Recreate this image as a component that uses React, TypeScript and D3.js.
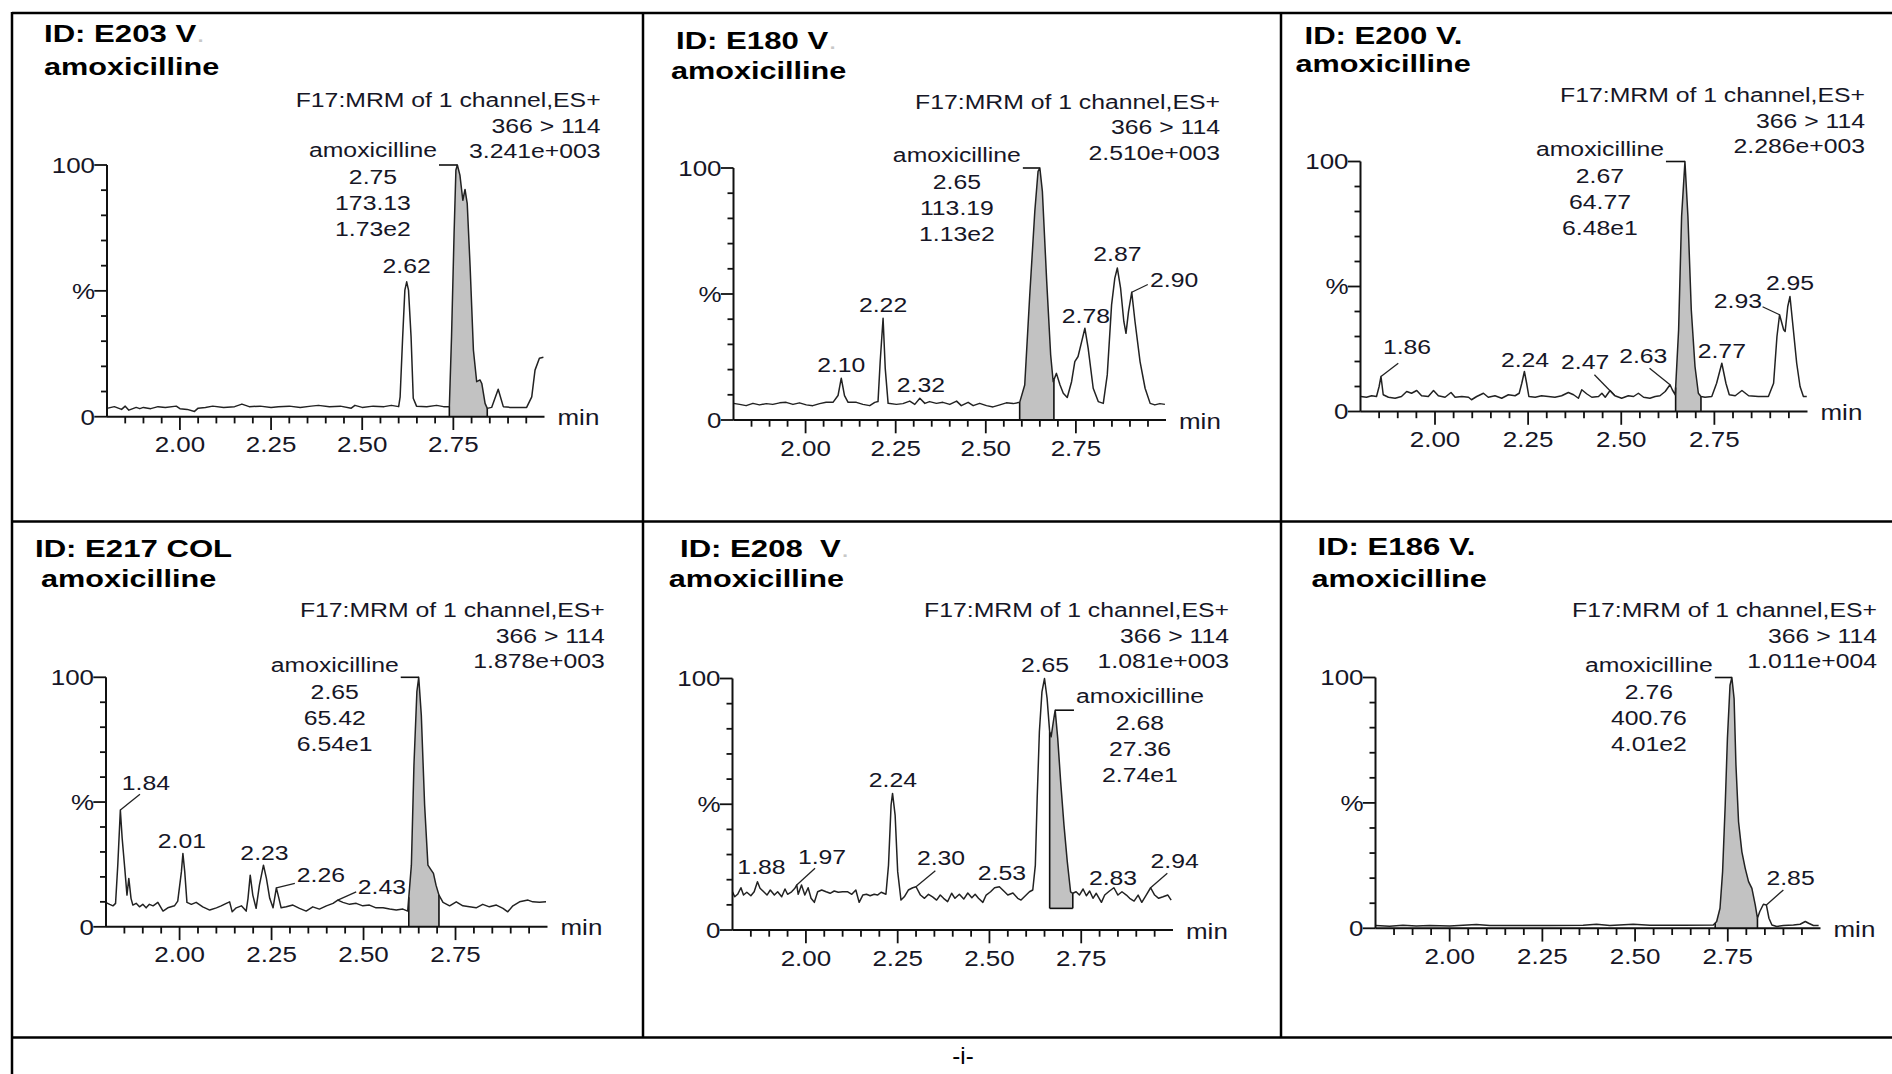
import React from "react";
import * as d3 from "d3";

type Pt = [number, number];

// ---- data ----
const sampleIds = ["ID: E203 V", "ID: E180 V", "ID: E200 V.", "ID: E217 COL", "ID: E208  V", "ID: E186 V."];
const faintDot = [true, true, false, false, true, false];
const compound = "amoxicilline";
const channel = "F17:MRM of 1 channel,ES+";
const transition = "366 > 114";
const maxIntensity = ["3.241e+003", "2.510e+003", "2.286e+003", "1.878e+003", "1.081e+003", "1.011e+004"];
const peakRt = ["2.75", "2.65", "2.67", "2.65", "2.68", "2.76"];
const peakArea = ["173.13", "113.19", "64.77", "65.42", "27.36", "400.76"];
const peakHeight = ["1.73e2", "1.13e2", "6.48e1", "6.54e1", "2.74e1", "4.01e2"];
// apex of the integrated peak [min, %]
const apex: Pt[] = [[2.761, 100], [2.65, 100], [2.671, 100], [2.65, 100], [2.679, 87.4], [2.761, 100]];
// integration window [start, end, baseline %]
const integration = [[2.739, 2.843, 0], [2.594, 2.689, 0], [2.646, 2.714, 0], [2.623, 2.705, 0], [2.664, 2.727, 8.6], [2.716, 2.83, 0]];
const timeDomain = [1.8, 3.0];
const xTicksMajor = [2.0, 2.25, 2.5, 2.75];
const yTicksMajor = [0, 50, 100];
const yTickLabels = ["0", "%", "100"];

const traceE203: Pt[] = [[1.80,3.3],[1.82,4.0],[1.84,2.9],[1.85,4.2],[1.86,2.6],[1.88,3.7],[1.89,3.2],[1.90,3.7],[1.92,3.2],[1.94,4.0],[1.96,3.7],[1.99,4.2],[2.00,3.2],[2.02,2.9],[2.04,2.1],[2.05,3.4],[2.07,3.7],[2.09,4.2],[2.12,3.7],[2.15,4.0],[2.17,5.0],[2.19,4.0],[2.22,4.2],[2.25,3.7],[2.27,4.0],[2.30,4.2],[2.33,3.7],[2.36,4.2],[2.38,4.5],[2.41,4.0],[2.44,4.2],[2.47,3.4],[2.48,4.5],[2.50,3.7],[2.53,4.2],[2.56,4.0],[2.58,4.5],[2.60,4.0],[2.604,7.9],[2.611,31.8],[2.617,50.3],[2.622,53.6],[2.627,50.3],[2.634,31.8],[2.640,7.3],[2.649,4.2],[2.677,4.0],[2.704,4.5],[2.723,4.0],[2.739,4.0],[2.745,31.8],[2.752,72.8],[2.757,98],[2.761,100],[2.768,96],[2.776,86],[2.782,90.3],[2.788,84.8],[2.796,59.6],[2.805,26.5],[2.814,13.9],[2.823,14.6],[2.828,13.2],[2.837,5.3],[2.843,3.3],[2.855,3.7],[2.873,10.9],[2.887,4.0],[2.906,3.7],[2.951,3.7],[2.965,7.9],[2.974,18.5],[2.986,23.2],[2.997,23.6]];

const traceE180: Pt[] = [[1.800,6.6],[1.817,6.2],[1.835,5.7],[1.854,6.6],[1.872,6.0],[1.891,6.5],[1.909,6.2],[1.928,6.8],[1.946,7.0],[1.965,6.2],[1.983,6.8],[2.002,6.0],[2.020,5.7],[2.039,6.5],[2.057,7.0],[2.076,7.0],[2.090,9.7],[2.099,16.6],[2.108,9.7],[2.118,7.0],[2.141,7.0],[2.159,6.2],[2.178,5.7],[2.192,7.0],[2.201,7.3],[2.207,23.2],[2.215,40.4],[2.221,20.5],[2.229,6.6],[2.252,6.2],[2.270,6.5],[2.289,7.5],[2.303,6.2],[2.317,8.6],[2.331,6.6],[2.344,7.3],[2.363,6.6],[2.381,7.0],[2.400,6.2],[2.419,7.5],[2.432,5.7],[2.451,7.0],[2.465,5.7],[2.483,6.6],[2.502,5.7],[2.520,5.2],[2.539,6.0],[2.557,6.8],[2.576,6.5],[2.594,7.0],[2.608,13.9],[2.622,49.7],[2.636,82.8],[2.645,98.7],[2.650,100],[2.657,90.7],[2.669,55.0],[2.680,25.8],[2.687,15.2],[2.696,18.5],[2.706,13.9],[2.715,10.6],[2.726,8.9],[2.738,15.2],[2.747,23.2],[2.756,25.2],[2.766,31.1],[2.775,36.4],[2.784,28.5],[2.798,12.6],[2.812,7.3],[2.826,6.6],[2.837,17.9],[2.849,45.7],[2.858,56.3],[2.865,60.3],[2.874,52.3],[2.883,39.1],[2.889,34.4],[2.896,43.0],[2.905,50.7],[2.914,39.1],[2.928,23.2],[2.942,12.6],[2.956,6.6],[2.969,6.0],[2.983,6.5],[2.997,6.2]];

const traceE200: Pt[] = [[1.801,6.0],[1.816,5.7],[1.830,6.3],[1.843,6.0],[1.850,10.0],[1.855,14.0],[1.861,6.7],[1.875,5.7],[1.893,5.3],[1.910,6.0],[1.924,8.0],[1.937,7.3],[1.951,8.4],[1.964,6.3],[1.982,6.0],[1.996,8.4],[2.009,6.3],[2.027,5.7],[2.043,7.6],[2.054,5.7],[2.072,6.0],[2.090,5.7],[2.098,4.7],[2.112,6.0],[2.130,7.3],[2.143,5.7],[2.161,6.3],[2.179,5.3],[2.197,6.7],[2.215,6.3],[2.226,7.3],[2.233,11.3],[2.240,16.0],[2.246,11.3],[2.252,6.0],[2.269,5.7],[2.286,6.3],[2.304,6.0],[2.322,5.7],[2.340,6.3],[2.358,7.6],[2.372,6.7],[2.385,5.3],[2.394,8.7],[2.407,7.1],[2.421,5.7],[2.439,6.0],[2.448,7.3],[2.457,5.7],[2.470,8.4],[2.483,6.3],[2.501,5.3],[2.519,6.3],[2.533,6.0],[2.546,7.3],[2.560,5.7],[2.577,5.3],[2.591,6.0],[2.604,6.3],[2.618,8.0],[2.631,10.7],[2.637,8.7],[2.645,6.7],[2.654,32.7],[2.662,78],[2.671,100],[2.679,78],[2.688,40.7],[2.698,18.0],[2.707,7.3],[2.714,6.0],[2.725,5.7],[2.743,6.0],[2.756,11.3],[2.770,19.3],[2.781,11.3],[2.790,6.7],[2.806,6.3],[2.824,8.4],[2.842,6.3],[2.868,6.0],[2.895,6.0],[2.909,11.3],[2.918,30],[2.925,38.7],[2.936,32.7],[2.940,32],[2.947,42],[2.953,46],[2.962,32.7],[2.971,19.3],[2.980,10.0],[2.989,6.0],[2.998,6.0]];

const traceE217: Pt[] = [[1.799,9.8],[1.810,9.0],[1.819,8.4],[1.826,9.4],[1.832,24.7],[1.839,46.8],[1.844,35.4],[1.851,23.4],[1.857,12.7],[1.862,19.4],[1.868,11.4],[1.873,8.7],[1.882,9.4],[1.891,8.0],[1.900,9.0],[1.909,7.6],[1.918,9.0],[1.928,8.4],[1.941,9.8],[1.955,6.3],[1.968,7.6],[1.986,8.4],[1.995,10.3],[2.005,22.1],[2.009,29.4],[2.014,22.1],[2.020,9.8],[2.032,9.0],[2.045,9.8],[2.063,8.0],[2.082,6.7],[2.100,7.6],[2.113,8.4],[2.127,9.4],[2.136,10.0],[2.143,6.0],[2.154,7.6],[2.168,8.4],[2.181,6.3],[2.186,11.4],[2.192,20.7],[2.199,12.7],[2.208,7.4],[2.217,16.7],[2.228,24.7],[2.236,19.4],[2.245,11.4],[2.254,7.6],[2.263,15.6],[2.270,11.4],[2.276,7.6],[2.290,8.0],[2.308,8.7],[2.326,7.4],[2.344,6.3],[2.362,8.0],[2.380,7.1],[2.399,8.4],[2.417,9.4],[2.430,10.7],[2.444,9.8],[2.462,9.0],[2.480,9.4],[2.498,8.4],[2.516,8.7],[2.534,7.6],[2.553,7.6],[2.571,7.1],[2.589,6.7],[2.607,7.1],[2.620,6.3],[2.630,24.7],[2.637,64.8],[2.645,94.3],[2.650,100],[2.657,84.9],[2.666,48.8],[2.675,24.7],[2.684,22.7],[2.690,21.4],[2.697,16.7],[2.705,12.7],[2.716,9.8],[2.734,8.4],[2.752,10.0],[2.770,8.4],[2.788,8.0],[2.806,7.6],[2.824,9.0],[2.842,8.0],[2.861,8.7],[2.879,7.4],[2.892,6.0],[2.906,8.4],[2.924,10.0],[2.947,10.7],[2.960,10.0],[2.978,9.8],[2.996,10.0]];

const traceE208: Pt[] = [[1.800,15.2],[1.806,13.2],[1.814,14.2],[1.823,16.8],[1.830,13.9],[1.839,15.0],[1.850,13.6],[1.859,15.2],[1.868,19.2],[1.875,16.6],[1.885,15.2],[1.894,13.9],[1.903,15.9],[1.914,13.9],[1.923,15.2],[1.934,13.2],[1.943,16.3],[1.950,14.2],[1.961,15.2],[1.970,16.6],[1.975,17.9],[1.979,14.2],[1.988,17.9],[1.997,13.9],[2.006,16.8],[2.014,12.6],[2.023,11.0],[2.032,15.2],[2.043,15.9],[2.055,15.2],[2.066,14.6],[2.077,15.5],[2.088,15.0],[2.100,15.2],[2.114,15.2],[2.125,14.2],[2.136,15.9],[2.145,11.0],[2.155,13.9],[2.165,14.2],[2.175,13.6],[2.186,14.2],[2.195,13.9],[2.205,15.0],[2.218,14.2],[2.225,25.8],[2.232,49.7],[2.236,54.3],[2.243,45.7],[2.250,23.2],[2.259,11.9],[2.268,13.2],[2.279,15.9],[2.291,16.8],[2.300,17.2],[2.312,13.9],[2.323,12.6],[2.334,14.2],[2.345,13.2],[2.356,11.9],[2.366,13.9],[2.375,12.6],[2.386,11.3],[2.397,14.6],[2.406,12.6],[2.418,14.2],[2.430,12.3],[2.441,14.7],[2.452,12.8],[2.461,14.2],[2.470,12.6],[2.482,11.0],[2.491,13.9],[2.503,15.2],[2.514,16.8],[2.527,17.2],[2.539,15.5],[2.550,13.9],[2.564,14.7],[2.577,12.6],[2.586,11.9],[2.600,13.9],[2.609,15.2],[2.618,15.9],[2.625,25.8],[2.630,52.3],[2.636,78.8],[2.643,94.7],[2.650,100],[2.657,92.1],[2.664,78.8],[2.668,76.8],[2.674,82.8],[2.679,87.4],[2.686,76.2],[2.694,58.9],[2.703,41.7],[2.712,27.2],[2.721,15.2],[2.727,14.6],[2.736,15.2],[2.745,13.9],[2.755,16.3],[2.764,13.6],[2.773,15.5],[2.782,12.6],[2.791,14.6],[2.805,11.0],[2.814,13.9],[2.827,15.5],[2.839,16.8],[2.850,13.9],[2.861,15.2],[2.873,13.9],[2.882,12.6],[2.894,11.5],[2.905,13.9],[2.915,11.0],[2.927,13.9],[2.939,16.8],[2.950,13.9],[2.961,12.6],[2.973,13.2],[2.986,13.9],[2.995,11.9]];

const traceE186: Pt[] = [[1.800,1.1],[1.838,0.8],[1.874,1.2],[1.910,0.9],[1.946,1.1],[2.000,0.9],[2.072,1.5],[2.108,1.1],[2.180,1.1],[2.270,1.1],[2.360,1.2],[2.396,1.6],[2.432,1.1],[2.495,1.6],[2.540,1.2],[2.630,1.2],[2.711,1.3],[2.720,2.7],[2.729,8.0],[2.736,22.6],[2.743,49.1],[2.749,75.7],[2.756,96.9],[2.761,100],[2.767,91.6],[2.772,65.1],[2.779,42.5],[2.788,30.5],[2.797,23.9],[2.806,18.6],[2.815,15.9],[2.824,9.3],[2.830,4.0],[2.836,6.6],[2.846,9.6],[2.854,9.3],[2.861,4.0],[2.869,1.3],[2.882,0.7],[2.900,1.1],[2.927,1.3],[2.945,1.6],[2.959,2.7],[2.968,2.0],[2.981,1.1],[2.995,1.1]];

const traces = [traceE203, traceE180, traceE200, traceE217, traceE208, traceE186];

// labelled peaks [label, min, %]
const peaksE203: [string, number, number][] = [["2.62", 2.622, 53.6]];
const peaksE180: [string, number, number][] = [["2.10", 2.099, 16.6], ["2.22", 2.215, 40.4], ["2.32", 2.317, 8.6], ["2.78", 2.775, 36.4], ["2.87", 2.865, 60.3], ["2.90", 2.905, 50.7]];
const peaksE200: [string, number, number][] = [["1.86", 1.855, 14], ["2.24", 2.24, 16], ["2.47", 2.483, 6.3], ["2.63", 2.631, 10.7], ["2.77", 2.77, 19.3], ["2.93", 2.925, 38.7], ["2.95", 2.953, 46]];
const peaksE217: [string, number, number][] = [["1.84", 1.839, 46.8], ["2.01", 2.009, 29.4], ["2.23", 2.228, 24.7], ["2.26", 2.263, 15.6], ["2.43", 2.43, 10.7]];
const peaksE208: [string, number, number][] = [["1.88", 1.868, 19.2], ["1.97", 1.975, 17.9], ["2.24", 2.236, 54.3], ["2.30", 2.3, 17.2], ["2.53", 2.527, 17.2], ["2.65", 2.65, 100], ["2.83", 2.827, 15.5], ["2.94", 2.939, 16.8]];
const peaksE186: [string, number, number][] = [["2.85", 2.854, 9.3]];
const peaks = [peaksE203, peaksE180, peaksE200, peaksE217, peaksE208, peaksE186];

// ---- layout (pixels) ----
type Lab = { dx: number; dy: number; a?: string; l?: [number, number] };
const LAYOUT = [
  { xl: 107, xr: 544.5, yTop: 165, yBot: 416.7, tx: 44, ty: 42, sx: 44, sy: 75.3, hx: 600.6, hy: 107, bdx: -84.4, bdy: -7.6 },
  { xl: 733.5, xr: 1166, yTop: 168, yBot: 420, tx: 676, ty: 48.5, sx: 671, sy: 78.7, hx: 1220, hy: 108.8, bdx: -83, bdy: -6 },
  { xl: 1360.5, xr: 1807.5, yTop: 161.5, yBot: 411.5, tx: 1304.5, ty: 43.5, sx: 1295.5, sy: 72, hx: 1865, hy: 102, bdx: -85, bdy: -5.8 },
  { xl: 106, xr: 547.5, yTop: 677.3, yBot: 926.8, tx: 35, ty: 557, sx: 41, sy: 587, hx: 604.8, hy: 617, bdx: -84, bdy: -5.3 },
  { xl: 732.5, xr: 1173, yTop: 678.5, yBot: 930, tx: 680, ty: 557, sx: 668.8, sy: 587, hx: 1229, hy: 617, bdx: 84.8, bdy: -7.3 },
  { xl: 1375.5, xr: 1820.5, yTop: 677.5, yBot: 928.3, tx: 1317.5, ty: 555, sx: 1311.6, sy: 587, hx: 1877, hy: 617, bdx: -83, bdy: -5.5 },
];
const LABELS: Lab[][] = [
  [{ dx: 0, dy: -9 }],
  [{ dx: 0, dy: -6.6 }, { dx: 0, dy: -6 }, { dx: 1, dy: -6.6 }, { dx: 1, dy: -5 }, { dx: 0, dy: -7 }, { dx: 18.3, dy: -5, a: "start", l: [16, -7.7] }],
  [{ dx: 26, dy: -22.5, l: [17.3, -13.2] }, { dx: 0.6, dy: -5 }, { dx: -29.8, dy: -27, l: [-20.5, -21] }, { dx: -26.8, dy: -21.7, l: [-20.5, -16.5] }, { dx: 0, dy: -5 }, { dx: -17.6, dy: -6.7, a: "end", l: [-17, -8] }, { dx: 0, dy: -7 }],
  [{ dx: 25.6, dy: -20, l: [19.6, -15.7] }, { dx: -1, dy: -5 }, { dx: 1, dy: -5 }, { dx: 20.5, dy: -6, a: "start", l: [18.5, -4.4] }, { dx: 20, dy: -6, a: "start", l: [18.4, -8.3] }],
  [{ dx: 4, dy: -7.3 }, { dx: 25.3, dy: -20.5, l: [18.3, -16.7] }, { dx: 0.4, dy: -6.8 }, { dx: 25, dy: -21.7, l: [19.3, -16] }, { dx: 2.6, dy: -6.4 }, { dx: 0.5, dy: -6.6 }, { dx: 3.5, dy: -6.4 }, { dx: 24, dy: -19.8, l: [16.7, -14.4] }],
  [{ dx: 24.2, dy: -20.2, l: [17, -15] }],
];
const BLOCK_LINES = [0, 27, 53, 79];
const BLOCK_HALF = 64;
const FONT = "'Liberation Sans', Arial, Helvetica, sans-serif";
const INK = "#161626";
const SX = 1.18;

const T = ({ x, y, anchor = "start", size = 21, sx = SX, bold = false, fill = INK, children }: any) => (
  <text transform={`translate(${x},${y}) scale(${sx},1)`} textAnchor={anchor} fontSize={size}
    fontWeight={bold ? 700 : 400} fill={fill} fontFamily={FONT} style={{ whiteSpace: "pre" }}>
    {children}
  </text>
);

function interp(tr: Pt[], t: number) {
  const i = d3.bisector((d: Pt) => d[0]).left(tr, t);
  if (i <= 0) return tr[0][1];
  if (i >= tr.length) return tr[tr.length - 1][1];
  const a = tr[i - 1], b = tr[i];
  return a[1] + (b[1] - a[1]) * (t - a[0]) / (b[0] - a[0]);
}

function Panel({ i }: { i: number }) {
  const L = LAYOUT[i];
  const tr = traces[i];
  const x = d3.scaleLinear().domain(timeDomain).range([L.xl, L.xr]);
  const y = d3.scaleLinear().domain([0, 100]).range([L.yBot, L.yTop]);
  const line = d3.line<Pt>().x(d => x(d[0])).y(d => y(d[1]));
  const [t1, t2, base] = integration[i];
  const shadePts: Pt[] = [[t1, interp(tr, t1)], ...tr.filter(d => d[0] > t1 && d[0] < t2), [t2, interp(tr, t2)]];
  const area = d3.area<Pt>().x(d => x(d[0])).y0(y(base)).y1(d => y(d[1]));
  const minorX = d3.range(37, 60).map(k => k / 20);
  const minorY = d3.range(0, 101, 10);
  const [at, av] = apex[i];
  const ax = x(at), ay = y(av);
  const bx = ax + L.bdx, by = ay + L.bdy;
  const leadFrom = L.bdx < 0 ? bx + BLOCK_HALF + 2 : bx - BLOCK_HALF - 2;
  const block = [compound, peakRt[i], peakArea[i], peakHeight[i]];
  return (
    <g>
      <path d={area(shadePts) || ""} fill="#c2c2c2" stroke="none" />
      <line x1={x(t1)} x2={x(t1)} y1={y(base)} y2={y(shadePts[0][1])} stroke="#111" strokeWidth={1.6} />
      <line x1={x(t2)} x2={x(t2)} y1={y(base)} y2={y(shadePts[shadePts.length - 1][1])} stroke="#111" strokeWidth={1.6} />
      {base > 0 && <line x1={x(t1)} x2={x(t2)} y1={y(base)} y2={y(base)} stroke="#111" strokeWidth={1.6} />}
      <path d={line(tr) || ""} fill="none" stroke="#222" strokeWidth={1.5} strokeLinejoin="round" />

      {/* axes */}
      <line x1={L.xl} x2={L.xr} y1={L.yBot} y2={L.yBot} stroke="#111" strokeWidth={2} />
      <line x1={L.xl} x2={L.xl} y1={L.yTop} y2={L.yBot} stroke="#111" strokeWidth={2} />
      {minorX.map(t => (
        <line key={"mx" + t} x1={x(t)} x2={x(t)} y1={L.yBot} y2={L.yBot + (xTicksMajor.includes(t) ? 13.3 : 6.7)} stroke="#111" strokeWidth={1.8} />
      ))}
      {xTicksMajor.map(t => (
        <T key={"xl" + t} x={x(t)} y={L.yBot + 35.5} anchor="middle" size={22}>{d3.format(".2f")(t)}</T>
      ))}
      <T x={L.xr + 13} y={L.yBot + 8.5} size={22}>min</T>
      {minorY.map(v => (
        <line key={"my" + v} x1={L.xl - (yTicksMajor.includes(v) ? 12.7 : 6)} x2={L.xl} y1={y(v)} y2={y(v)} stroke="#111" strokeWidth={1.8} />
      ))}
      {yTicksMajor.map((v, k) => (
        <T key={"yl" + v} x={L.xl - 12} y={y(v) + 7.8} anchor="end" size={22}>{yTickLabels[k]}</T>
      ))}

      {/* header */}
      <T x={L.tx} y={L.ty} size={24.5} sx={1.27} bold fill="#000">
        {sampleIds[i]}
        {faintDot[i] && <tspan fill="#c8c8c8" fontWeight={400}>.</tspan>}
      </T>
      <T x={L.sx} y={L.sy} size={24.5} sx={1.25} bold fill="#000">{compound}</T>
      <T x={L.hx} y={L.hy} anchor="end">{channel}</T>
      <T x={L.hx} y={L.hy + 25.5} anchor="end">{transition}</T>
      <T x={L.hx} y={L.hy + 51} anchor="end">{maxIntensity[i]}</T>

      {/* integrated peak block */}
      <line x1={leadFrom} x2={ax} y1={ay} y2={ay} stroke="#111" strokeWidth={1.6} />
      {block.map((s, k) => (
        <T key={"b" + k} x={bx} y={by + BLOCK_LINES[k]} anchor="middle">{s}</T>
      ))}

      {/* other peak labels */}
      {peaks[i].map(([s, t, v], k) => {
        const o = LABELS[i][k];
        const px = x(t), py = y(v);
        return (
          <g key={"p" + k}>
            {o.l && <line x1={px + o.l[0]} y1={py + o.l[1]} x2={px} y2={py} stroke="#222" strokeWidth={1.3} />}
            <T x={px + o.dx} y={py + o.dy} anchor={o.a || "middle"}>{s}</T>
          </g>
        );
      })}
    </g>
  );
}

export default function App() {
  const W = 1892, H = 1074;
  const frame = "#000";
  return (
    <div style={{ position: "absolute", left: 0, top: 0, background: "#fff" }}>
      <svg width={W} height={H} viewBox={`0 0 ${W} ${H}`} style={{ display: "block" }}>
        <rect x={0} y={0} width={W} height={H} fill="#fff" />
        <g stroke={frame} strokeWidth={2.5}>
          <line x1={12} x2={W} y1={13} y2={13} />
          <line x1={12} x2={W} y1={521.5} y2={521.5} />
          <line x1={12} x2={W} y1={1037.5} y2={1037.5} />
          <line x1={12} x2={12} y1={12} y2={H} />
          <line x1={643} x2={643} y1={13} y2={1037.5} />
          <line x1={1281} x2={1281} y1={13} y2={1037.5} />
        </g>
        {d3.range(6).map(i => <Panel key={i} i={i} />)}
        <T x={963} y={1064} anchor="middle" size={24} sx={1} fill="#000">-i-</T>
      </svg>
    </div>
  );
}
